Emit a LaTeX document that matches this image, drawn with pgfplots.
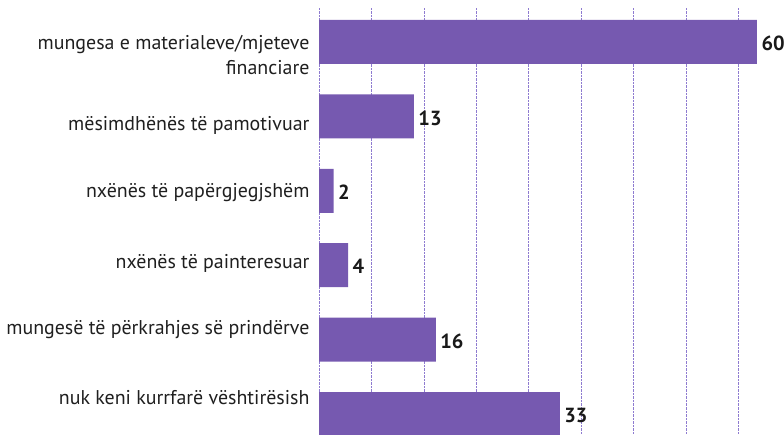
\documentclass[border=0pt]{standalone}
\usepackage{fontspec}
\setmainfont{PT Sans}
\usepackage{pgfplots}
\pgfplotsset{compat=1.18}
\definecolor{barc}{HTML}{7659B0}
\definecolor{gridc}{HTML}{8E7BD0}
\begin{document}
\begin{tikzpicture}
\useasboundingbox (0,0) rectangle (784bp,435bp);
\begin{axis}[
  at={(319bp,0bp)}, anchor=south west,
  scale only axis, width=465bp, height=427bp,
  xmin=0, xmax=63.7,
  ymin=-0.282, ymax=5.457,
  xbar, bar width=44bp,
  axis line style={draw=none},
  major tick length=0pt,
  xtick={0,7.185,14.37,21.555,28.74,35.925,43.11,50.295,57.48},
  xticklabels={},
  xmajorgrids,
  grid style={gridc, densely dotted, line width=0.7pt},
  ytick={0.215,1.129,2.030,2.970,3.884,4.825},
  yticklabels={nuk keni kurrfarë vështirësish,
    mungesë të përkrahjes së prindërve,
    nxënës të painteresuar,
    nxënës të papërgjegjshëm,
    mësimdhënës të pamotivuar,
    {mungesa e materialeve/mjeteve\\financiare}},
  yticklabel style={font=\fontsize{20}{26}\selectfont, color=black!88, align=right, anchor=east, xshift=-6bp},
  /pgf/number format/assume math mode=true,
  nodes near coords,
  every node near coord/.append style={font=\fontsize{20.5}{22}\selectfont\bfseries, color=black!90, anchor=west, xshift=1bp, yshift=-1.5bp},
  clip=false,
]
\addplot[fill=barc, draw=none] coordinates {
  (33,0) (16,1) (4,2) (2,3) (13,4) (60,5)
};
\end{axis}
\end{tikzpicture}
\end{document}
